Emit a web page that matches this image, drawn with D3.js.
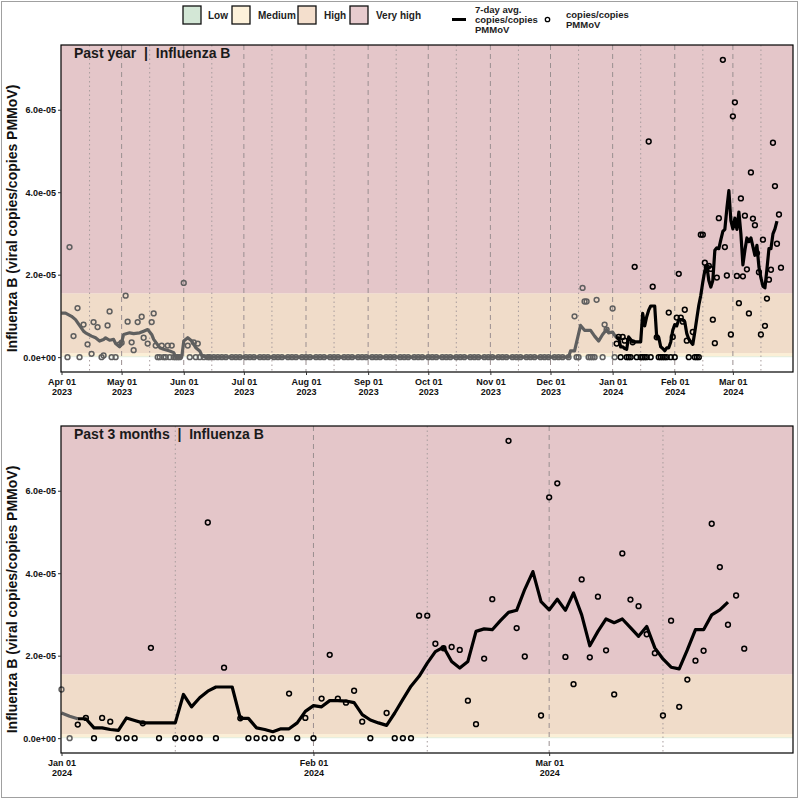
<!DOCTYPE html>
<html lang="en">
<head>
<meta charset="UTF-8">
<title>Influenza B | wastewater</title>
<script src="https://d3js.org/d3.v7.min.js"></script>
<style>
  body { margin: 0; background: #fff; }
  svg text { font-family: "Liberation Sans", Arial, sans-serif; }
</style>
</head>
<body>
<svg id="chart" width="800" height="800"></svg>
<script>
// ---- data ----
const bandNames  = ["Low", "Medium", "High", "Very high"];
const bandStarts = [0, 0.02e-5, 0.1e-5, 1.55e-5];   // lower bound of each level
const yTicks = [0, 2e-5, 4e-5, 6e-5];
const yDomain = [-0.36e-5, 7.57e-5];

// non-zero sample readings
const readingDates = [
  "2023-04-05","2023-04-07","2023-04-09","2023-04-12","2023-04-14","2023-04-16","2023-04-17",
  "2023-04-19","2023-04-22","2023-04-24","2023-04-25","2023-04-30","2023-05-01","2023-05-03",
  "2023-05-04","2023-05-06","2023-05-07","2023-05-09","2023-05-11","2023-05-12","2023-05-14",
  "2023-05-16","2023-05-17","2023-05-18","2023-05-21","2023-05-24","2023-05-26","2023-06-01",
  "2023-06-03","2023-06-06","2023-06-08",
  "2023-12-13","2023-12-17","2023-12-18","2023-12-19","2023-12-24","2023-12-28","2023-12-29",
  "2024-01-01","2024-01-03","2024-01-04","2024-01-06","2024-01-07","2024-01-11","2024-01-12",
  "2024-01-19","2024-01-21","2024-01-23","2024-01-29","2024-01-31","2024-02-02","2024-02-03",
  "2024-02-04","2024-02-05","2024-02-06","2024-02-07","2024-02-10","2024-02-14","2024-02-15",
  "2024-02-16","2024-02-17","2024-02-18","2024-02-19","2024-02-20","2024-02-21","2024-02-22",
  "2024-02-23","2024-02-25","2024-02-26","2024-02-27","2024-02-29","2024-03-01","2024-03-02",
  "2024-03-03","2024-03-04","2024-03-05","2024-03-06","2024-03-07","2024-03-08","2024-03-09",
  "2024-03-10","2024-03-11","2024-03-12","2024-03-13","2024-03-14","2024-03-15","2024-03-16",
  "2024-03-17","2024-03-18","2024-03-19","2024-03-20","2024-03-21","2024-03-22","2024-03-23",
  "2024-03-24","2024-03-25"
];
const readingValues = [
  2.67,0.51,1.19,0.79,0.31,0.08,0.85,
  0.73,0.04,0.77,1.11,0.31,0.35,1.49,
  0.86,0.36,0.17,0.85,0.98,0.47,0.33,
  0.85,1.06,0.28,0.28,0.28,0.28,1.80,
  0.28,0.36,0.33,
  0.99,1.68,1.35,1.35,1.39,0.79,0.67,
  1.18,0.33,0.49,0.49,0.40,0.36,2.19,
  5.23,1.71,0.48,1.08,0.49,0.96,2.02,
  0.96,0.86,1.15,0.40,0.61,2.97,2.97,
  2.29,2.18,2.21,2.14,0.91,0.34,1.93,
  3.37,7.21,2.67,1.98,0.55,5.84,6.18,
  1.97,1.31,3.85,1.96,3.43,2.13,1.06,
  4.48,3.36,3.20,2.52,2.06,0.55,2.85,
  0.76,1.42,1.88,2.12,5.20,4.15,2.75,
  3.46,2.17
].map(v => v * 1e-5);

// readings of zero
const zeroDates = [
  "2023-04-04","2023-04-10","2023-04-21","2023-04-26","2023-04-28","2023-05-19","2023-05-20",
  "2023-05-22","2023-05-23","2023-05-25","2023-05-27","2023-05-28","2023-05-29","2023-05-30",
  "2023-06-04","2023-06-07","2023-06-09","2023-06-11","2023-06-13","2023-06-14","2023-06-16",
  "2023-06-18","2023-06-20","2023-06-22","2023-06-25","2023-06-27","2023-06-29","2023-07-02",
  "2023-07-04","2023-07-06","2023-07-09","2023-07-11","2023-07-13","2023-07-16","2023-07-18",
  "2023-07-20","2023-07-23","2023-07-25","2023-07-27","2023-07-30","2023-08-01","2023-08-03",
  "2023-08-06","2023-08-08","2023-08-10","2023-08-13","2023-08-15","2023-08-17","2023-08-20",
  "2023-08-22","2023-08-24","2023-08-27","2023-08-29","2023-08-31","2023-09-03","2023-09-05",
  "2023-09-07","2023-09-10","2023-09-12","2023-09-14","2023-09-17","2023-09-19","2023-09-21",
  "2023-09-24","2023-09-26","2023-09-28","2023-10-01","2023-10-03","2023-10-05","2023-10-08",
  "2023-10-10","2023-10-12","2023-10-15","2023-10-17","2023-10-19","2023-10-22","2023-10-24",
  "2023-10-26","2023-10-29","2023-10-31","2023-11-02","2023-11-05","2023-11-07","2023-11-09",
  "2023-11-12","2023-11-14","2023-11-16","2023-11-19","2023-11-21","2023-11-23","2023-11-26",
  "2023-11-28","2023-11-30","2023-12-03","2023-12-05","2023-12-07","2023-12-10","2023-12-14",
  "2023-12-15","2023-12-20","2023-12-21","2023-12-22","2023-12-23","2023-12-27",
  "2024-01-02","2024-01-05","2024-01-08","2024-01-09","2024-01-10","2024-01-13","2024-01-15",
  "2024-01-16","2024-01-17","2024-01-18","2024-01-20","2024-01-24","2024-01-25","2024-01-26",
  "2024-01-27","2024-01-28","2024-01-30","2024-02-01","2024-02-08","2024-02-11","2024-02-12",
  "2024-02-13"
];

// 7-day average line
const avgDates = [
  "2023-04-01","2023-04-03","2023-04-06","2023-04-08","2023-04-10","2023-04-12","2023-04-13",
  "2023-04-16","2023-04-18","2023-04-20","2023-04-22","2023-04-23","2023-04-25","2023-04-27",
  "2023-04-28","2023-04-30","2023-05-01","2023-05-02","2023-05-05","2023-05-07","2023-05-10",
  "2023-05-12","2023-05-14","2023-05-16","2023-05-17","2023-05-20","2023-05-22","2023-05-25",
  "2023-05-27","2023-05-28","2023-05-31","2023-06-01","2023-06-03","2023-06-05","2023-06-07",
  "2023-06-09","2023-06-10","2023-06-12","2023-12-10","2023-12-11","2023-12-13","2023-12-16",
  "2023-12-18","2023-12-21","2023-12-23","2023-12-25","2023-12-27","2023-12-29","2023-12-30",
  "2024-01-01","2024-01-02","2024-01-03","2024-01-04","2024-01-05","2024-01-06","2024-01-07",
  "2024-01-08","2024-01-09","2024-01-10","2024-01-11","2024-01-12","2024-01-13","2024-01-14",
  "2024-01-15","2024-01-16","2024-01-17","2024-01-18","2024-01-19","2024-01-20","2024-01-21",
  "2024-01-22","2024-01-23","2024-01-24","2024-01-25","2024-01-26","2024-01-27","2024-01-28",
  "2024-01-29","2024-01-30","2024-01-31","2024-02-01","2024-02-02","2024-02-03","2024-02-04",
  "2024-02-05","2024-02-06","2024-02-07","2024-02-08","2024-02-09","2024-02-10","2024-02-11",
  "2024-02-12","2024-02-13","2024-02-14","2024-02-15","2024-02-16","2024-02-17","2024-02-18",
  "2024-02-19","2024-02-20","2024-02-21","2024-02-22","2024-02-23","2024-02-24","2024-02-25",
  "2024-02-26","2024-02-27","2024-02-28","2024-02-29","2024-03-01","2024-03-02","2024-03-03",
  "2024-03-04","2024-03-05","2024-03-06","2024-03-07","2024-03-08","2024-03-09","2024-03-10",
  "2024-03-11","2024-03-12","2024-03-13","2024-03-14","2024-03-15","2024-03-16","2024-03-17",
  "2024-03-18","2024-03-19","2024-03-20","2024-03-21","2024-03-22","2024-03-23"
];
const avgValues = [
  1.07,1.07,0.99,0.91,0.77,0.63,0.59,
  0.51,0.47,0.39,0.43,0.47,0.41,0.43,
  0.33,0.25,0.36,0.55,0.59,0.57,0.59,
  0.63,0.67,0.55,0.43,0.23,0.19,0.15,
  0.11,0,0,0.39,0.47,0.39,0.23,
  0.15,0.04,0,0,0.15,0.15,0.77,
  0.65,0.65,0.51,0.39,0.55,0.67,0.59,
  0.61,0.53,0.47,0.47,0.25,0.25,0.21,
  0.19,0.49,0.43,0.37,0.37,0.37,0.37,
  0.37,1.06,0.76,0.98,1.14,1.24,1.24,
  1.24,0.48,0.48,0.25,0.21,0.155,0.227,
  0.227,0.37,0.65,0.79,0.76,0.91,0.91,
  0.90,0.86,0.57,0.44,0.37,0.31,0.61,
  0.94,1.26,1.50,1.82,2.10,2.21,1.86,
  1.70,1.86,2.59,2.65,2.63,2.85,3.05,
  3.10,3.61,4.04,3.31,3.11,3.37,3.10,
  3.52,2.99,2.24,2.59,2.89,2.80,2.89,
  2.68,2.47,2.71,2.19,1.92,1.72,1.68,
  2.14,2.63,2.63,2.99,3.11,3.30
].map(v => v * 1e-5);

// older than the 3-month window is drawn grey
const recentStart = "2024-01-03";

const panels = [
  { title: "Past year  |  Influenza B",     from: "2023-04-01", to: "2024-03-31", top: 45 },
  { title: "Past 3 months  |  Influenza B", from: "2024-01-01", to: "2024-03-31", top: 426 }
];

// ---- styles ----
const bandColors = ["#cfe4d2", "#fbefd6", "#f0dcc9", "#e4c6c9"];
const legendFills = ["#d3e7d6", "#fdf1da", "#f4dfcd", "#e7cbce"];
const greyInk = "#5f5f5f";
const left = 61, right = 793, panelH = 327;

const parse = d3.timeParse("%Y-%m-%d");
const cutoff = parse(recentStart);

const points = readingDates.map((d, i) => ({ date: parse(d), value: readingValues[i] }))
  .concat(zeroDates.map(d => ({ date: parse(d), value: 0 })));
const avg = avgDates.map((d, i) => ({ date: parse(d), value: avgValues[i] }));

function sci(v) {
  if (v === 0) return "0.0e+00";
  const e = Math.floor(Math.log10(v) + 1e-9);
  const m = v / Math.pow(10, e);
  return m.toFixed(1) + "e" + (e < 0 ? "-" : "+") + String(Math.abs(e)).padStart(2, "0");
}

const svg = d3.select("#chart");
svg.append("rect").attr("width", 800).attr("height", 800).attr("fill", "#fff");

panels.forEach(p => {
  const x0 = parse(p.from), x1 = parse(p.to);
  const x = d3.scaleTime().domain([x0, x1]).range([left + 0.5, right]);
  const y = d3.scaleLinear().domain(yDomain).range([p.top + panelH, p.top]);
  const g = svg.append("g");

  // risk level bands
  bandStarts.forEach((b, i) => {
    const hi = i < bandStarts.length - 1 ? bandStarts[i + 1] : yDomain[1];
    g.append("rect")
      .attr("x", left).attr("width", right - left)
      .attr("y", y(hi)).attr("height", y(b) - y(hi))
      .attr("fill", bandColors[i]);
  });

  // month lines (dashed) and mid-month lines (dotted)
  const months = d3.timeMonth.range(x0, d3.timeDay.offset(x1, 1));
  const mids = d3.timeDay.range(x0, d3.timeDay.offset(x1, 1)).filter(d => d.getDate() === 15);
  g.selectAll(null).data(months.filter(d => x(d) > left + 2)).join("line")
    .attr("x1", d => x(d)).attr("x2", d => x(d))
    .attr("y1", p.top).attr("y2", p.top + panelH)
    .attr("stroke", "#9a8f90").attr("stroke-width", 1).attr("stroke-dasharray", "5,4");
  g.selectAll(null).data(mids).join("line")
    .attr("x1", d => x(d)).attr("x2", d => x(d))
    .attr("y1", p.top).attr("y2", p.top + panelH)
    .attr("stroke", "#a79c9d").attr("stroke-width", 1).attr("stroke-dasharray", "1.5,3");

  // 7-day average line, grey before the window, black inside it
  const inRange = d => d.date >= x0 && d.date <= x1;
  const line = d3.line().x(d => x(d.date)).y(d => y(d.value));
  const oldAvg = avg.filter(d => inRange(d) && d.date <= cutoff);
  const newAvg = avg.filter(d => inRange(d) && d.date >= cutoff);
  g.append("path").datum(oldAvg).attr("d", line)
    .attr("fill", "none").attr("stroke", greyInk).attr("stroke-width", 3.2)
    .attr("stroke-linejoin", "round");
  g.append("path").datum(newAvg).attr("d", line)
    .attr("fill", "none").attr("stroke", "#000").attr("stroke-width", 3.2)
    .attr("stroke-linejoin", "round");

  // sample points
  g.selectAll(null).data(points.filter(inRange)).join("circle")
    .attr("cx", d => x(d.date)).attr("cy", d => y(d.value)).attr("r", 2.4)
    .attr("fill", "none")
    .attr("stroke", d => d.date < cutoff ? greyInk : "#000")
    .attr("stroke-width", 1.5);

  // panel frame
  g.append("rect").attr("x", left).attr("y", p.top)
    .attr("width", right - left).attr("height", panelH)
    .attr("fill", "none").attr("stroke", "#000").attr("stroke-width", 1.2);

  // y axis
  const yAxis = d3.axisLeft(y).tickValues(yTicks).tickFormat(sci).tickSize(3).tickPadding(2);
  const ya = g.append("g").attr("transform", `translate(${left},0)`).call(yAxis);
  ya.select(".domain").remove();
  ya.selectAll("text").attr("font-size", 9).attr("font-weight", "bold").attr("fill", "#111");
  ya.selectAll("line").attr("stroke", "#333");

  // x axis with two-line labels
  const xAxis = d3.axisBottom(x).tickValues(months).tickSize(3).tickFormat("");
  const xa = g.append("g").attr("transform", `translate(0,${p.top + panelH})`).call(xAxis);
  xa.select(".domain").remove();
  xa.selectAll("line").attr("stroke", "#333");
  xa.selectAll(".tick").append("text")
    .attr("text-anchor", "middle").attr("font-size", 9).attr("font-weight", "bold")
    .attr("fill", "#111")
    .selectAll("tspan").data(d => [d3.timeFormat("%b %d")(d), d3.timeFormat("%Y")(d)])
    .join("tspan").attr("x", 0).attr("y", (d, i) => 13 + i * 10).text(d => d);

  // panel title
  g.append("text").attr("x", 74).attr("y", p.top + 13)
    .attr("font-size", 14).attr("font-weight", "bold").attr("fill", "#1a1a1a")
    .style("white-space", "pre").text(p.title);

  // y axis title (centred on panel plus its x labels)
  g.append("text")
    .attr("transform", `translate(17,${p.top + panelH / 2 + 10}) rotate(-90)`)
    .attr("text-anchor", "middle").attr("font-size", 14).attr("font-weight", "bold")
    .attr("fill", "#111")
    .text("Influenza B (viral copies/copies PMMoV)");
});

// ---- legend ----
const lg = svg.append("g");
const boxX = [183, 232, 298, 350];
const labX = [208, 258, 324, 376];
bandNames.forEach((n, i) => {
  lg.append("rect").attr("x", boxX[i]).attr("y", 6).attr("width", 18).attr("height", 18)
    .attr("fill", legendFills[i]).attr("stroke", "#111").attr("stroke-width", 1.3);
  lg.append("text").attr("x", labX[i]).attr("y", 19)
    .attr("font-size", 10).attr("font-weight", "bold").attr("fill", "#222").text(n);
});
lg.append("line").attr("x1", 452).attr("x2", 466).attr("y1", 19.5).attr("y2", 19.5)
  .attr("stroke", "#000").attr("stroke-width", 3);
lg.append("text").attr("font-size", 9.5).attr("font-weight", "bold").attr("fill", "#222")
  .selectAll("tspan").data(["7-day avg.", "copies/copies", "PMMoV"]).join("tspan")
  .attr("x", 475).attr("y", (d, i) => 13 + i * 10).text(d => d);
lg.append("circle").attr("cx", 547.5).attr("cy", 19.5).attr("r", 2.2)
  .attr("fill", "none").attr("stroke", "#000").attr("stroke-width", 1.3);
lg.append("text").attr("font-size", 9.5).attr("font-weight", "bold").attr("fill", "#222")
  .selectAll("tspan").data(["copies/copies", "PMMoV"]).join("tspan")
  .attr("x", 566).attr("y", (d, i) => 18 + i * 10).text(d => d);

// outer frame
svg.append("rect").attr("x", 1.5).attr("y", 1.5).attr("width", 796).attr("height", 796)
  .attr("fill", "none").attr("stroke", "#a0a0a0").attr("stroke-width", 1);
</script>
</body>
</html>
